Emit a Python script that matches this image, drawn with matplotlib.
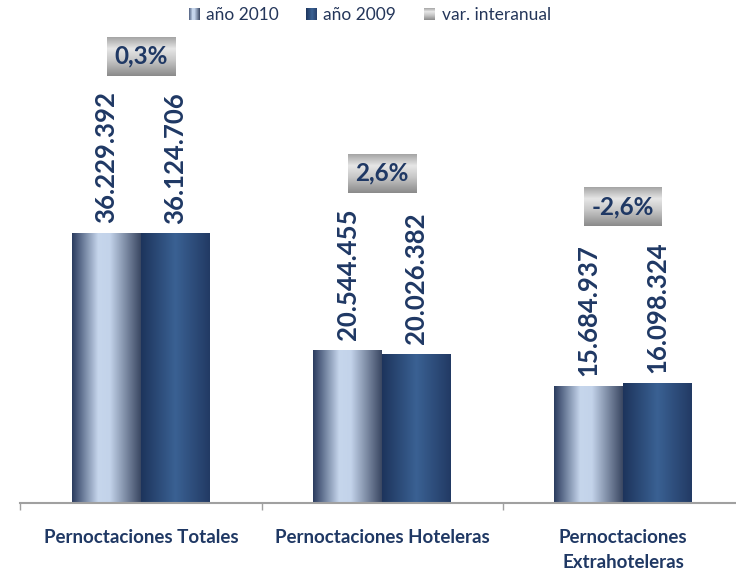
import numpy as np
import matplotlib.pyplot as plt
from matplotlib.colors import LinearSegmentedColormap
from matplotlib.patches import Patch, Rectangle
from matplotlib.legend_handler import HandlerBase

categories = ["Pernoctaciones Totales", "Pernoctaciones Hoteleras", "Pernoctaciones\nExtrahoteleras"]
anio_2010 = [36229392, 20544455, 15684937]
anio_2009 = [36124706, 20026382, 16098324]
var_interanual = ["0,3%", "2,6%", "-2,6%"]

NAVY = "#1f3864"
plt.rcParams["font.family"] = ["Lato", "DejaVu Sans"]

cm_2010 = LinearSegmentedColormap.from_list(
    "c2010", [(0, "#2a3b5e"), (0.38, "#c6d6ec"), (0.55, "#c3d3ea"), (1, "#3a4762")])
cm_2009 = LinearSegmentedColormap.from_list(
    "c2009", [(0, "#1d345c"), (0.5, "#3a6193"), (1, "#223a64")])
cm_gray = LinearSegmentedColormap.from_list(
    "cgray", [(0, "#a4a4a4"), (0.3, "#e6e6e6"), (0.6, "#c6c6c6"), (1, "#8a8a8a")])


class GradientHandler(HandlerBase):
    # legend key drawn as small stripes so it shows the gradient
    def __init__(self, cmap, vertical=False):
        super().__init__()
        self.cmap = cmap
        self.vertical = vertical

    def create_artists(self, legend, orig_handle, xdescent, ydescent, width, height, fontsize, trans):
        n = 12
        arts = []
        w = height * 0.9
        x0 = -xdescent + width - w
        for i in range(n):
            c = self.cmap((i + 0.5) / n)
            if self.vertical:
                r = Rectangle((x0, -ydescent + height * (1 - (i + 1) / n)), w, height / n,
                              fc=c, ec="none", transform=trans)
            else:
                r = Rectangle((x0 + w * i / n, -ydescent), w / n, height,
                              fc=c, ec="none", transform=trans)
            arts.append(r)
        return arts


fig = plt.figure(figsize=(7.36, 5.77), dpi=100)
ax = fig.add_axes([20.5 / 736, 74 / 577, 723 / 736, 473 / 577])

x = np.arange(len(categories))
bw = 0.286
b1 = ax.bar(x - bw / 2, anio_2010, bw, color="none", zorder=2)
b2 = ax.bar(x + bw / 2, anio_2009, bw, color="none", zorder=2)

grad = np.linspace(0, 1, 256).reshape(1, -1)
for bars, cm in [(b1, cm_2010), (b2, cm_2009)]:
    for p in bars:
        x0, y0 = p.get_x(), p.get_y()
        im = ax.imshow(grad, cmap=cm, aspect="auto", zorder=2,
                       extent=[x0, x0 + p.get_width(), y0, y0 + p.get_height()])
        im.set_clip_path(p)

for bars, vals in [(b1, anio_2010), (b2, anio_2009)]:
    for p, v in zip(bars, vals):
        lab = f"{v:,}".replace(",", ".")
        ax.annotate(lab, (p.get_x() + p.get_width() / 2, v), xytext=(0, 7),
                    textcoords="offset points", rotation=90, ha="center", va="bottom",
                    fontsize=18.5, fontweight="bold", color=NAVY, zorder=4)

boxes = []
for i, t in enumerate(var_interanual):
    top = max(anio_2010[i], anio_2009[i])
    a = ax.annotate(t, (x[i], top), xytext=(0, 127), textcoords="offset points",
                    ha="center", va="center", fontsize=17.5, fontweight="bold",
                    color=NAVY, zorder=5,
                    bbox=dict(boxstyle="square,pad=0.32", fc="none", ec="none"))
    boxes.append(a)

ax.set_xlim(-0.5, 2.5)
ax.set_ylim(0, 63.4e6)

for s in ["left", "right", "top"]:
    ax.spines[s].set_visible(False)
ax.spines["bottom"].set_color("#a0a0a0")
ax.spines["bottom"].set_linewidth(1.5)
ax.set_yticks([])
ax.set_xticks([-0.5, 0.5, 1.5])
ax.set_xticklabels([])
ax.tick_params(axis="x", which="major", length=5, width=1, color="#a0a0a0")
ax.set_xticks(x, minor=True)
ax.set_xticklabels(categories, minor=True, fontsize=13.5, fontweight="bold",
                   color=NAVY, va="top", linespacing=1.55)
ax.tick_params(axis="x", which="minor", length=0, pad=19)

handles = [Patch(label="año 2010"), Patch(label="año 2009"), Patch(label="var. interanual")]
leg = fig.legend(handles=handles, loc="center", bbox_to_anchor=(369 / 736, 1 - 15 / 577),
                 ncol=3, frameon=False, fontsize=12.5, handlelength=0.7, handletextpad=0.35,
                 columnspacing=1.55, labelcolor="#24365a",
                 handler_map={handles[0]: GradientHandler(cm_2010),
                              handles[1]: GradientHandler(cm_2009),
                              handles[2]: GradientHandler(cm_gray, vertical=True)})

# gray gradient behind the percentage labels
fig.canvas.draw()
inv = ax.transData.inverted()
vgrad = np.linspace(0, 1, 256).reshape(-1, 1)
for a in boxes:
    bb = a.get_bbox_patch().get_window_extent()
    (dx0, dy0), (dx1, dy1) = inv.transform([[bb.x0, bb.y0], [bb.x1, bb.y1]])
    ax.imshow(vgrad, cmap=cm_gray, aspect="auto", zorder=3,
              extent=[dx0, dx1, dy0, dy1], origin="upper")
ax.set_xlim(-0.5, 2.5)
ax.set_ylim(0, 63.4e6)

fig.savefig("out.png", dpi=100)
